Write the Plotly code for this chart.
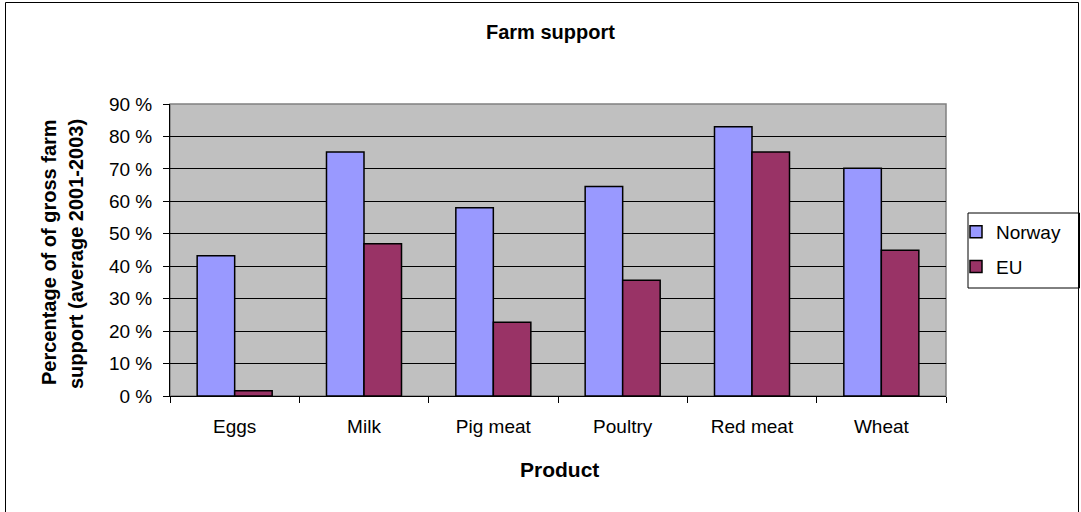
import plotly.graph_objects as go

categories = ["Eggs", "Milk", "Pig meat", "Poultry", "Red meat", "Wheat"]
norway = [43.2, 75.2, 58.0, 64.6, 83.0, 70.2]
eu = [1.6, 46.9, 22.7, 35.7, 75.2, 44.9]
ytick_vals = [0, 10, 20, 30, 40, 50, 60, 70, 80, 90]
ytick_text = [f"{v} %" for v in ytick_vals]

W, H = 1081, 512
L, R, T, B = 170, 946, 104, 396  # plot area in pixels
FONT = "Arial, Liberation Sans, sans-serif"


def px(x):
    return (x - L) / (R - L)


def py(y):
    return (B - y) / (B - T)


fig = go.Figure()
fig.add_trace(go.Bar(x=categories, y=norway, name="Norway",
                     marker=dict(color="#9999FF", line=dict(color="black", width=1.5)),
                     legendgroup="a"))
fig.add_trace(go.Bar(x=categories, y=eu, name="EU",
                     marker=dict(color="#993366", line=dict(color="black", width=1.5)),
                     legendgroup="b"))

fig.update_layout(
    width=W, height=H,
    margin=dict(l=L, r=W - R, t=T, b=H - B),
    paper_bgcolor="white",
    plot_bgcolor="#C0C0C0",
    barmode="group",
    bargap=0.42,
    bargroupgap=0,
    font=dict(family=FONT, color="black", size=19),
    showlegend=True,
    legend=dict(x=px(956), y=py(213), xanchor="left", yanchor="top",
                bgcolor="rgba(0,0,0,0)", borderwidth=0,
                font=dict(size=19), tracegroupgap=7, itemwidth=30,
                traceorder="grouped"),
)

fig.update_xaxes(
    type="category", range=[-0.5, 5.5],
    showline=True, linecolor="black", linewidth=1,
    ticks="outside", tickson="boundaries", ticklen=6, tickcolor="black",
    showgrid=False, ticklabelstandoff=13,
    tickfont=dict(size=19),
)
fig.update_yaxes(
    range=[0, 90], tickvals=ytick_vals, ticktext=ytick_text,
    showline=True, linecolor="black", linewidth=1,
    ticks="outside", ticklen=6, tickcolor="black",
    showgrid=True, gridcolor="black", gridwidth=1,
    ticklabelstandoff=7, zeroline=False,
    tickfont=dict(size=19),
)

shapes = [
    # plot area frame (grey top/right)
    dict(type="rect", xref="paper", yref="paper", x0=0, x1=1, y0=0, y1=1,
         line=dict(color="#808080", width=1.5), layer="below"),
    # outer chart border
    dict(type="rect", xref="paper", yref="paper", x0=px(5.5), x1=px(1078.5),
         y0=py(520), y1=py(2.5), line=dict(color="black", width=1)),
    # legend box
    dict(type="rect", xref="paper", yref="paper", x0=px(968), x1=px(1079.5),
         y0=py(288), y1=py(213), line=dict(color="black", width=1),
         fillcolor="white", layer="below"),
]

annotations = [
    dict(text="<b>Farm support</b>", x=px(550), y=py(32), xref="paper", yref="paper",
         showarrow=False, xanchor="center", yanchor="middle", font=dict(size=20)),
    dict(text="<b>Product</b>", x=px(559), y=py(469), xref="paper", yref="paper",
         showarrow=False, xanchor="center", yanchor="middle", font=dict(size=21)),
    dict(text="<b>Percentage of of gross farm</b>", x=px(49), y=py(252), xref="paper",
         yref="paper", showarrow=False, textangle=-90, xanchor="center",
         yanchor="middle", font=dict(size=20)),
    dict(text="<b>support (average 2001-2003)</b>", x=px(76), y=py(254), xref="paper",
         yref="paper", showarrow=False, textangle=-90, xanchor="center",
         yanchor="middle", font=dict(size=20)),
]

fig.update_layout(shapes=shapes, annotations=annotations)
fig.write_html("out.html")
